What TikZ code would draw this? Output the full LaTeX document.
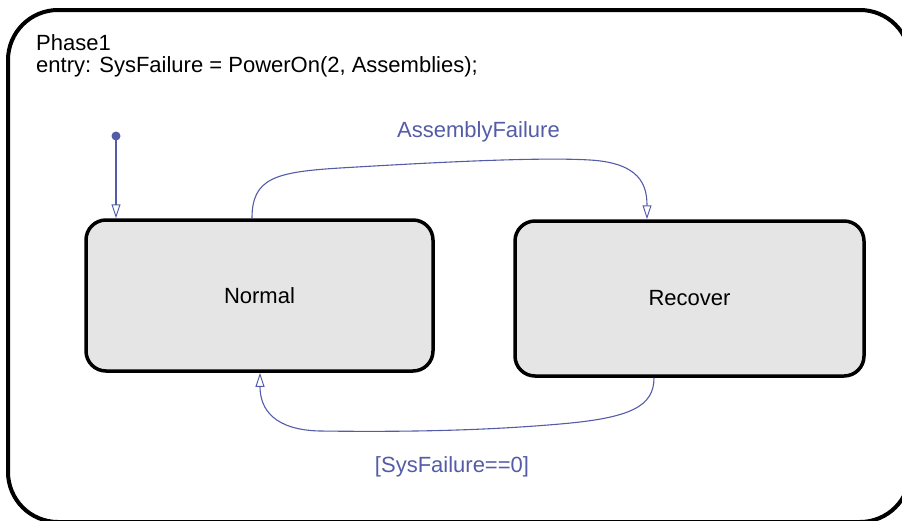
\documentclass[tikz,border=0pt]{standalone}
\usepackage{fontspec}
\setmainfont{Liberation Sans}
\usetikzlibrary{arrows.meta}
\definecolor{trblue}{RGB}{84,92,168}
\definecolor{statefill}{RGB}{229,229,229}
\tikzset{
  statebox/.style={draw=black, line width=3.5pt, fill=statefill, rounded corners=20pt,
    inner sep=0pt, font=\fontsize{22}{24}\selectfont},
  trans/.style={draw=trblue, line width=1.1pt, -{Triangle[open, length=14pt, width=9pt, line width=1pt]}},
  trlabel/.style={text=trblue, inner sep=0pt, font=\fontsize{22}{24}\selectfont},
  plaintext/.style={text=black, inner sep=0pt, font=\fontsize{22}{24}\selectfont},
}
\begin{document}
\begin{tikzpicture}[x=1pt, y=-1pt]
\useasboundingbox (0,0) rectangle (902,520);
\clip (0,0) rectangle (902,520);
% outer state Phase1
\draw[line width=4pt, rounded corners=50pt] (8,10) rectangle (910,522);
\node[plaintext, anchor=base west] (ph) at (36,50) {Phase1};
\node[plaintext, anchor=base west] (en) at (36,72) {entry: SysFailure = PowerOn(2, Assemblies);};
% states
\node[statebox, minimum width=347pt, minimum height=151pt] (N) at (259.5,295.5) {Normal};
\node[statebox, minimum width=349pt, minimum height=155pt] (R) at (689.5,298.5) {Recover};
% default transition
\fill[trblue] (116,136) circle (4.5pt) coordinate (dflt);
\draw[trans] (dflt) -- ([xshift=-143.5pt]N.north);
% AssemblyFailure
\draw[trans] ([xshift=-7.5pt]N.north) .. controls +(0,-40) and (275,172) .. (340,168)
  .. controls (440,162) and (540,157) .. (590,160)
  .. controls (640,163) and (647,185) .. ([xshift=-42.5pt]R.north);
\node[trlabel, anchor=base] (lab1) at (478.5,137) {AssemblyFailure};
% SysFailure==0
\draw[trans] ([xshift=-35.5pt]R.south) .. controls +(0,29) and (630,418) .. (560,424)
  .. controls (480,431) and (400,432) .. (320,431)
  .. controls (275,430) and (260,410) .. ([xshift=0.5pt]N.south);
\node[trlabel, anchor=base] (lab2) at (452,472) {[SysFailure==0]};
\end{tikzpicture}
\end{document}
